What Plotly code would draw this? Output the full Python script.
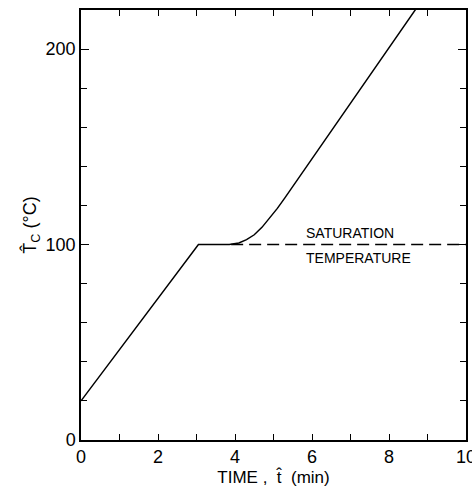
import plotly.graph_objects as go

# Data
time_min = [0.0, 3.05, 3.85, 4.1, 4.3, 4.5, 4.7, 4.9, 5.1, 5.3, 8.8]
temp_c = [20, 100, 100, 100.8, 102.5, 105, 108.8, 113.5, 118.5, 124, 223.4]

sat_time = [3.9, 10.0]
sat_temp = [100, 100]

x_ticks = [0, 2, 4, 6, 8, 10]
y_ticks = [0, 100, 200]

font_family = "Liberation Sans, Arial, sans-serif"

fig = go.Figure()
fig.add_trace(go.Scatter(x=sat_time, y=sat_temp, mode="lines",
                         line=dict(color="black", width=1.5, dash="12px,6px"),
                         showlegend=False, hoverinfo="skip"))
fig.add_trace(go.Scatter(x=time_min, y=temp_c, mode="lines",
                         line=dict(color="black", width=1.5),
                         showlegend=False, hoverinfo="skip"))

fig.add_annotation(x=6.99, y=106, text="SATURATION", showarrow=False,
                   font=dict(size=14, color="black", family=font_family))
fig.add_annotation(x=7.22, y=93, text="TEMPERATURE", showarrow=False,
                   font=dict(size=14, color="black", family=font_family))

fig.update_layout(
    width=472, height=491,
    margin=dict(l=81, r=6, t=10, b=51),
    paper_bgcolor="white", plot_bgcolor="white",
    font=dict(family=font_family, color="black", size=18),
    xaxis=dict(range=[0, 10], tickvals=x_ticks, ticks="inside", ticklen=6,
               tickwidth=1.3, tickcolor="black", automargin=False,
               ticklabeloverflow="allow",
               minor=dict(dtick=1, ticks="inside", ticklen=6, tickwidth=1.3, tickcolor="black"),
               showline=True, linecolor="black", linewidth=1.5, mirror="allticks",
               showgrid=False, zeroline=False,
               title=dict(text="TIME ,  t\u0302  (min)", standoff=2, font=dict(size=17))),
    yaxis=dict(range=[0, 220], tickvals=y_ticks, ticks="inside", ticklen=8,
               tickwidth=1.3, tickcolor="black", automargin=False,
               ticklabeloverflow="allow",
               minor=dict(dtick=20, ticks="inside", ticklen=6, tickwidth=1.3, tickcolor="black"),
               showline=True, linecolor="black", linewidth=1.5, mirror="allticks",
               showgrid=False, zeroline=False,
               title=dict(text="T\u0302<sub>C</sub> (°C)", standoff=4, font=dict(size=18))),
)

fig.write_html("out.html", config={"displayModeBar": False},
               post_script="document.body.style.margin='0';document.body.style.overflow='hidden';")
